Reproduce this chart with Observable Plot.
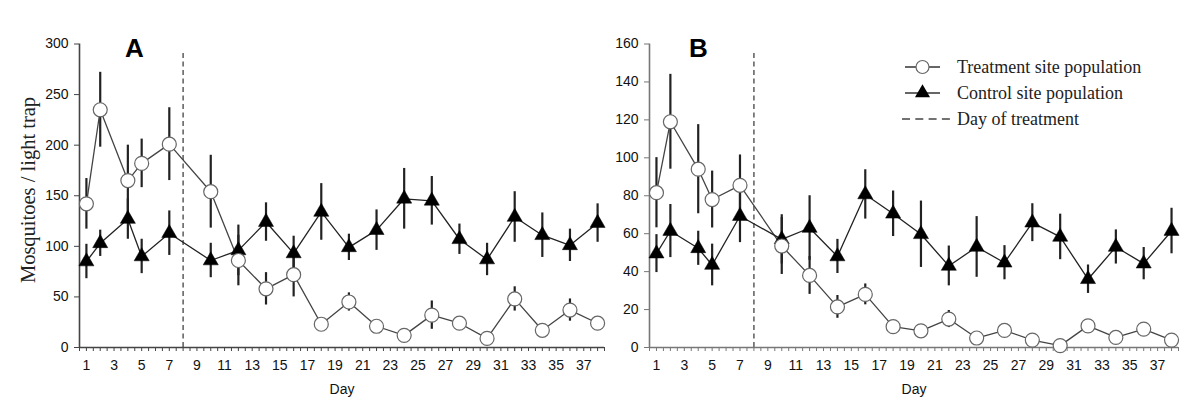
<!DOCTYPE html>
<html>
<head>
<meta charset="utf-8">
<script src="https://cdn.jsdelivr.net/npm/d3@7"></script>
<script src="https://cdn.jsdelivr.net/npm/@observablehq/plot@0.6"></script>
<style>
  body { margin: 0; background: #fff; }
  #wrap { position: relative; width: 1200px; height: 416px; overflow: hidden; background: #fff; }
  .panel { position: absolute; top: 0; }
  .title { position: absolute; font-family: "Liberation Sans", Arial, sans-serif; font-weight: bold; font-size: 26px; color: #000; line-height: 1; }
  #ylab { position: absolute; left: 28px; top: 190px; transform: translate(-50%, -50%) rotate(-90deg); font-family: "Liberation Serif", "Times New Roman", serif; font-size: 20.5px; color: #222; white-space: nowrap; }
  #legend { position: absolute; left: 900px; top: 55px; }
</style>
</head>
<body>
<div id="wrap">
  <div id="panelA" class="panel" style="left:0px"></div>
  <div id="panelB" class="panel" style="left:600px"></div>
  <div class="title" style="left:125px; top:35px">A</div>
  <div class="title" style="left:689px; top:35px">B</div>
  <div id="ylab">Mosquitoes / light trap</div>
  <div id="legend"></div>
</div>
<script>
// ---- data ----
const days = [1,2,4,5,7,10,12,14,16,18,20,22,24,26,28,30,32,34,36,38];
const treatmentDay = [8];
const oddDays = d3.range(1, 38, 2);

const aTreatment = [142,235,165,182,201,154,86,58,72,23,45,21,12,32,24,9,48,17,37,24];
const aTreatmentErr = [25,37,35,24,36,36,25,16,22,5,9,3,3,14,3,3,12,3,11,6];
const aControl = [85,103,127,90,113,86,96,124,93,134,99,116,147,145,107,87,129,111,101,123];
const aControlErr = [17,13,20,17,22,17,25,19,17,28,13,20,30,24,15,16,25,22,16,19];

const bTreatment = [81.6,119,94,78,85.5,53.5,38,21.4,28,11,8.8,15,5,9,3.9,1,11.4,5.3,9.7,3.9];
const bTreatmentErr = [18.5,25,23.5,15,16,15,10,6,5.5,3,2,4.5,2,2,2,1,3,2,2,2];
const bControl = [49.5,61.4,52.3,43.5,69.3,57,63,48,80.7,70.5,59.7,43,53,44.7,65.8,58.3,36,53,44.2,61.4];
const bControlErr = [10,14,9,11,14,13,17,9,13,12,17.5,10.5,16,9,10,12,7.5,9,8.5,12];

const aYTicks = [0,50,100,150,200,250,300];
const bYTicks = [0,20,40,60,80,100,120,140,160];

function rows(vals, errs) {
  return days.map((d, i) => ({day: d, v: vals[i], lo: vals[i] - errs[i], hi: vals[i] + errs[i]}));
}

function panel({treat, treatErr, ctrl, ctrlErr, yMax, yTicks, dashTop, width, marginLeft, marginRight, axisColor}) {
  const t = rows(treat, treatErr);
  const c = rows(ctrl, ctrlErr);
  return Plot.plot({
    width, height: 416,
    marginLeft, marginRight, marginTop: 43.5, marginBottom: 69,
    x: {domain: [0.5, 38.5]},
    y: {domain: [0, yMax]},
    style: {fontFamily: "Liberation Sans, Arial, sans-serif", fontSize: "13.5px", color: "#111", background: "transparent", overflow: "visible"},
    marks: [
      Plot.ruleX(treatmentDay, {y1: 0, y2: dashTop, stroke: "#666", strokeWidth: 1.6, strokeDasharray: "5,3.5"}),
      Plot.ruleY([0], {stroke: axisColor, strokeWidth: 1.6}),
      Plot.ruleX([0.5], {y1: 0, y2: yMax, stroke: axisColor, strokeWidth: 1.6}),
      Plot.axisX({ticks: d3.range(0.5, 38.51, 0.5), tickSize: 4, tickFormat: () => "", label: null, stroke: axisColor}),
      Plot.axisX({ticks: oddDays, tickSize: 0, tickPadding: 13, label: "Day", labelAnchor: "center", labelArrow: "none", labelOffset: 46, fontSize: 14}),
      Plot.axisY({ticks: yTicks, tickSize: 5, tickPadding: 6, label: null, stroke: axisColor, fontSize: 14}),
      Plot.ruleX(t, {x: "day", y1: "lo", y2: "hi", stroke: "#222", strokeWidth: 2.2}),
      Plot.ruleX(c, {x: "day", y1: "lo", y2: "hi", stroke: "#222", strokeWidth: 2.2}),
      Plot.line(t, {x: "day", y: "v", stroke: "#444", strokeWidth: 1.3}),
      Plot.line(c, {x: "day", y: "v", stroke: "#222", strokeWidth: 1.3}),
      Plot.dot(c, {x: "day", y: "v", symbol: "triangle", r: 5.6, fill: "#000", stroke: "#000", strokeWidth: 0.5}),
      Plot.dot(t, {x: "day", y: "v", symbol: "circle", r: 7, fill: "#fff", stroke: "#666", strokeWidth: 1.2})
    ]
  });
}

document.getElementById("panelA").append(panel({
  treat: aTreatment, treatErr: aTreatmentErr, ctrl: aControl, ctrlErr: aControlErr,
  yMax: 300, yTicks: aYTicks, dashTop: 294, width: 610, marginLeft: 79, marginRight: 6, axisColor: "#444"
}));
document.getElementById("panelB").append(panel({
  treat: bTreatment, treatErr: bTreatmentErr, ctrl: bControl, ctrlErr: bControlErr,
  yMax: 160, yTicks: bYTicks, dashTop: 156, width: 600, marginLeft: 49, marginRight: 22, axisColor: "#777"
}));

// ---- legend ----
const legendItems = ["Treatment site population", "Control site population", "Day of treatment"];
const lg = d3.select("#legend").append("svg").attr("width", 295).attr("height", 80).style("overflow", "visible");
const rowY = [12, 38, 64];
legendItems.forEach((label, i) => {
  const g = lg.append("g").attr("transform", `translate(0,${rowY[i]})`);
  if (i === 2) {
    g.append("line").attr("x1", 2).attr("x2", 50).attr("y1", 0).attr("y2", 0)
      .attr("stroke", "#444").attr("stroke-width", 1.4).attr("stroke-dasharray", "8,5.3");
  } else {
    g.append("line").attr("x1", 5).attr("x2", 40).attr("y1", 0).attr("y2", 0).attr("stroke", "#333").attr("stroke-width", 1.3);
    if (i === 0) {
      g.append("circle").attr("cx", 22.5).attr("cy", 0).attr("r", 6.5).attr("fill", "#fff").attr("stroke", "#666").attr("stroke-width", 1.2);
    } else {
      g.append("path").attr("d", d3.symbol(d3.symbolTriangle, Math.PI * 5.6 * 5.6)()).attr("transform", "translate(22.5,0)").attr("fill", "#000");
    }
  }
  g.append("text").attr("x", 57).attr("y", 0).attr("dy", "0.35em").text(label)
    .attr("font-family", "Liberation Serif, Times New Roman, serif").attr("font-size", 18).attr("fill", "#222");
});
</script>
</body>
</html>
